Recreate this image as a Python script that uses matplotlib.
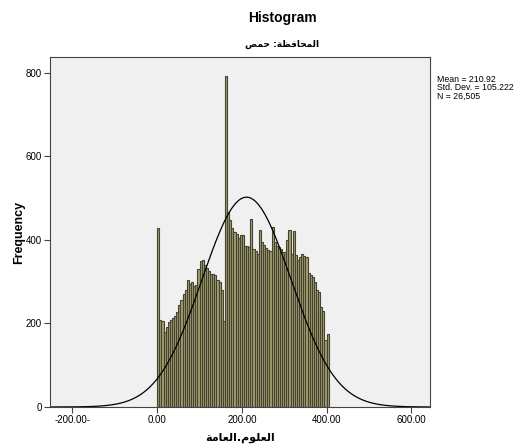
import numpy as np
import matplotlib
matplotlib.use("Agg")
import matplotlib.pyplot as plt

# histogram data (bin width 5, bins start at 0)
bin_width = 5
counts = [428, 209, 205, 180, 192, 203, 208, 213, 219, 228,
          244, 256, 270, 279, 303, 295, 300, 290, 291, 330,
          350, 352, 340, 332, 326, 318, 318, 317, 303, 300,
          280, 206, 793, 468, 447, 428, 419, 415, 404, 412,
          411, 385, 386, 384, 450, 378, 373, 366, 423, 395,
          389, 381, 376, 373, 430, 395, 385, 383, 379, 372,
          371, 399, 424, 367, 421, 363, 351, 360, 367, 362,
          360, 320, 315, 311, 299, 280, 275, 240, 230, 160, 174]
mean = 210.92
std = 105.222
n_total = 26505

x_ticks = [-200, 0, 200, 400, 600]
x_ticklabels = ["-200.00-", "0.00", "200.00", "400.00", "600.00"]
y_ticks = [0, 200, 400, 600, 800]

subtitle = "المحافظة: حمص"
xlabel = "العلوم.العامة"

# minimal arabic shaping (matplotlib has no bidi / joining)
FORMS = {
    "ا": ("\uFE8D", "\uFE8E", None, None),
    "ل": ("\uFEDD", "\uFEDE", "\uFEDF", "\uFEE0"),
    "م": ("\uFEE1", "\uFEE2", "\uFEE3", "\uFEE4"),
    "ح": ("\uFEA1", "\uFEA2", "\uFEA3", "\uFEA4"),
    "ف": ("\uFED1", "\uFED2", "\uFED3", "\uFED4"),
    "ظ": ("\uFEC5", "\uFEC6", "\uFEC7", "\uFEC8"),
    "ة": ("\uFE93", "\uFE94", None, None),
    "ص": ("\uFEB9", "\uFEBA", "\uFEBB", "\uFEBC"),
    "ع": ("\uFEC9", "\uFECA", "\uFECB", "\uFECC"),
    "و": ("\uFEED", "\uFEEE", None, None),
}


def shape(s):
    out = []
    for i, ch in enumerate(s):
        if ch not in FORMS:
            out.append(ch)
            continue
        prev = s[i - 1] if i > 0 else ""
        nxt = s[i + 1] if i + 1 < len(s) else ""
        jp = prev in FORMS and FORMS[prev][2] is not None
        jn = FORMS[ch][2] is not None and nxt in FORMS
        iso, fin, ini, med = FORMS[ch]
        if jp and jn:
            out.append(med)
        elif jp:
            out.append(fin)
        elif jn:
            out.append(ini)
        else:
            out.append(iso)
    return "".join(reversed(out))


FILL = "#a39e6e"
EDGE = "#454433"
PANEL = "#f0f0f0"
FRAME = "#444444"

plt.rcParams["font.family"] = ["Liberation Sans", "DejaVu Sans"]

fig = plt.figure(figsize=(5.29, 4.47), dpi=100)
ax = fig.add_axes([0.0945, 0.0895, 0.7183, 0.7819])
ax.set_facecolor(PANEL)

edges = np.arange(len(counts)) * bin_width
ax.bar(edges, counts, width=bin_width, align="edge", color=FILL,
       edgecolor=EDGE, linewidth=0.8)

xs = np.linspace(-253, 644, 600)
ys = n_total * bin_width * np.exp(-0.5 * ((xs - mean) / std) ** 2) / (std * np.sqrt(2 * np.pi))
ax.plot(xs, ys, color="black", linewidth=0.9)

ax.set_xlim(-253, 644)
ax.set_ylim(0, 837)
ax.set_xticks(x_ticks)
ax.set_xticklabels(x_ticklabels)
ax.set_yticks(y_ticks)
ax.tick_params(direction="out", length=4, width=0.8, colors=FRAME,
               labelsize=7, labelcolor="black", pad=2)
for sp in ax.spines.values():
    sp.set_color(FRAME)
    sp.set_linewidth(0.8)

ax.set_ylabel("Frequency", fontsize=9, fontweight="bold", labelpad=0.5)
ax.set_xlabel(shape(xlabel), fontsize=8, fontweight="bold",
              family="DejaVu Sans", labelpad=5)

fig.text(282 / 529, 1 - 18 / 447, "Histogram", ha="center", va="center",
         fontsize=10, fontweight="bold")
fig.text(282 / 529, 1 - 44 / 447, shape(subtitle), ha="center", va="center",
         fontsize=6.5, fontweight="bold", family="DejaVu Sans")

stats = [f"Mean = {mean:.2f}", f"Std. Dev. = {std:.3f}", f"N = {n_total:,}"]
for i, line in enumerate(stats):
    fig.text(437 / 529, 1 - (79 + i * 8.5) / 447, line, ha="left", va="center",
             fontsize=6.3)

fig.savefig("out.png", dpi=100)
